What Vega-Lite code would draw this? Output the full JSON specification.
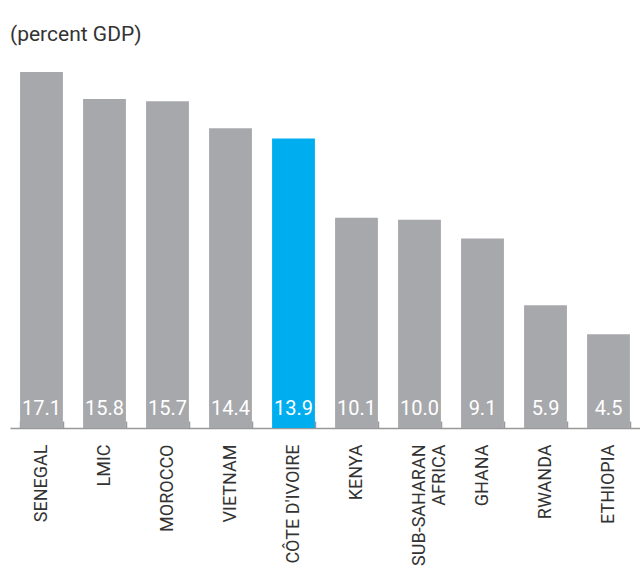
{
  "$schema": "https://vega.github.io/schema/vega-lite/v6.json",
  "autosize": "none",
  "width": 630,
  "height": 356,
  "padding": {"left": 10, "top": 72, "right": 0, "bottom": 142},
  "background": "white",
  "config": {
    "font": "Roboto, sans-serif",
    "view": {"stroke": null}
  },
  "title": {
    "text": "(percent GDP)",
    "anchor": "start",
    "frame": "group",
    "baseline": "alphabetic",
    "offset": 10,
    "fontSize": 21,
    "fontWeight": "normal",
    "color": "#333333",
    "font": "Roboto, sans-serif"
  },
  "data": {
    "values": [
      {"country": "SENEGAL", "value": 17.1, "highlight": "no"},
      {"country": "LMIC", "value": 15.8, "highlight": "no"},
      {"country": "MOROCCO", "value": 15.7, "highlight": "no"},
      {"country": "VIETNAM", "value": 14.4, "highlight": "no"},
      {"country": "CÔTE D'IVOIRE", "value": 13.9, "highlight": "yes"},
      {"country": "KENYA", "value": 10.1, "highlight": "no"},
      {"country": "SUB-SAHARAN AFRICA", "value": 10.0, "highlight": "no"},
      {"country": "GHANA", "value": 9.1, "highlight": "no"},
      {"country": "RWANDA", "value": 5.9, "highlight": "no"},
      {"country": "ETHIOPIA", "value": 4.5, "highlight": "no"}
    ]
  },
  "encoding": {
    "x": {
      "field": "country",
      "type": "nominal",
      "sort": null,
      "scale": {"paddingInner": 0.32, "paddingOuter": 0.16},
      "axis": {
        "title": null,
        "labelAngle": -90,
        "labelFontSize": 18,
        "labelColor": "#333333",
        "labelPadding": 23,
        "labelExpr": "datum.value == 'SUB-SAHARAN AFRICA' ? ['SUB-SAHARAN', 'AFRICA'] : datum.value",
        "labelLineHeight": 20,
        "domainColor": "#999999",
        "domainWidth": 1.5,
        "tickColor": "#999999",
        "tickWidth": 1.5,
        "tickSize": -7,
        "tickBand": "extent"
      }
    }
  },
  "layer": [
    {
      "mark": {"type": "bar"},
      "encoding": {
        "y": {
          "field": "value",
          "type": "quantitative",
          "scale": {"domain": [0, 17.1], "nice": false},
          "axis": null
        },
        "color": {
          "field": "highlight",
          "type": "nominal",
          "scale": {"domain": ["no", "yes"], "range": ["#a7a8ab", "#00aeef"]},
          "legend": null
        }
      }
    },
    {
      "mark": {"type": "text", "baseline": "alphabetic", "dy": -13, "fontSize": 20, "color": "white"},
      "encoding": {
        "y": {"datum": 0, "type": "quantitative"},
        "text": {"field": "value", "type": "quantitative", "format": ".1f"}
      }
    }
  ]
}
